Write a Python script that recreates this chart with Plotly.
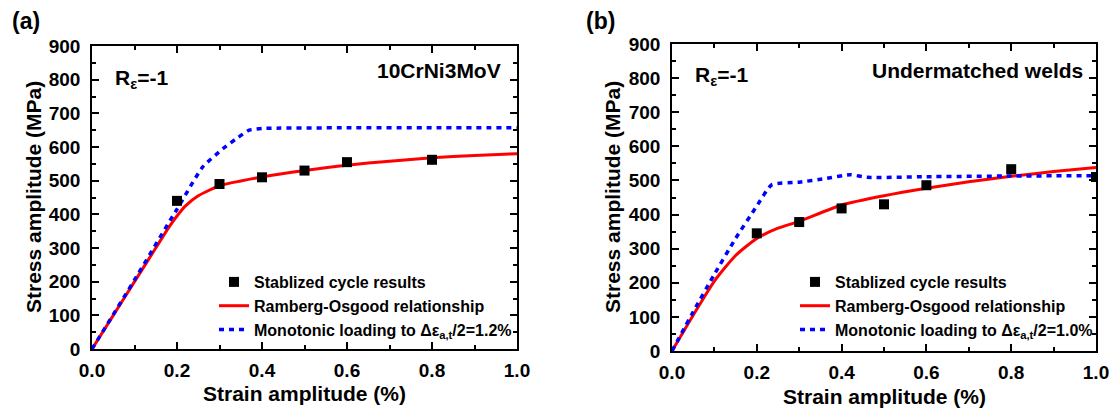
import plotly.graph_objects as go

# ---------------- data ----------------
# Panel (a) 10CrNi3MoV
a_pts_x = [0.2, 0.3, 0.4, 0.5, 0.6, 0.8]
a_pts_y = [440, 490, 510, 530, 555, 562]
a_ro_x = [0.0, 0.05, 0.10, 0.15, 0.18, 0.20, 0.22, 0.25, 0.30, 0.35, 0.40, 0.50, 0.60, 0.70, 0.80, 0.90, 1.00]
a_ro_y = [0, 100, 200, 300, 360, 395, 425, 455, 485, 499, 511, 530, 546, 558, 568, 575, 580]
a_mono_x = [0.0, 0.10, 0.19, 0.20, 0.26, 0.31, 0.34, 0.37, 0.40, 0.60, 0.80, 1.00]
a_mono_y = [0, 205, 395, 415, 540, 597, 625, 650, 655, 657, 657, 657]

# Panel (b) Undermatched welds
b_pts_x = [0.2, 0.3, 0.4, 0.5, 0.6, 0.8, 1.0]
b_pts_y = [345, 378, 418, 430, 486, 533, 510]
b_ro_x = [0.0, 0.05, 0.10, 0.15, 0.20, 0.25, 0.30, 0.40, 0.50, 0.60, 0.70, 0.80, 0.90, 1.00]
b_ro_y = [0, 105, 205, 280, 330, 360, 380, 428, 455, 477, 496, 512, 526, 538]
b_mono_x = [0.0, 0.05, 0.10, 0.15, 0.20, 0.235, 0.30, 0.36, 0.42, 0.46, 0.60, 0.80, 1.00]
b_mono_y = [0, 115, 225, 330, 425, 487, 495, 505, 517, 509, 511, 513, 514]

y_ticks = [0, 100, 200, 300, 400, 500, 600, 700, 800, 900]
x_ticks = [0.0, 0.2, 0.4, 0.6, 0.8, 1.0]
x_tick_labels = ["0.0", "0.2", "0.4", "0.6", "0.8", "1.0"]

name_pts = "Stablized cycle results"
name_ro = "Ramberg-Osgood relationship"
name_mono_a = "Monotonic loading to Δε<sub>a,t</sub>/2=1.2%"
name_mono_b = "Monotonic loading to Δε<sub>a,t</sub>/2=1.0%"

FONT = "Liberation Sans, Arial, sans-serif"
W, H = 1115, 409

fig = go.Figure()

def add_panel(xa, ya, legend, px, py, rx, ry, mx, my, mono_name):
    fig.add_trace(go.Scatter(x=rx, y=ry, mode="lines", name=name_ro, legendrank=2,
                             line=dict(color="#ff0000", width=3, shape="spline", smoothing=0.6),
                             xaxis=xa, yaxis=ya, legend=legend))
    fig.add_trace(go.Scatter(x=mx, y=my, mode="lines", name=mono_name, legendrank=3,
                             line=dict(color="#0000ff", width=3.5, dash="5px,5px", shape="spline", smoothing=0.5),
                             xaxis=xa, yaxis=ya, legend=legend))
    fig.add_trace(go.Scatter(x=px, y=py, mode="markers", name=name_pts, legendrank=1,
                             marker=dict(symbol="square", size=10, color="black"),
                             xaxis=xa, yaxis=ya, legend=legend))

add_panel("x", "y", "legend", a_pts_x, a_pts_y, a_ro_x, a_ro_y, a_mono_x, a_mono_y, name_mono_a)
add_panel("x2", "y2", "legend2", b_pts_x, b_pts_y, b_ro_x, b_ro_y, b_mono_x, b_mono_y, name_mono_b)

def px2x(p):
    return p / W

def py2y(p):
    return 1 - p / H

axis_common = dict(
    showline=True, linecolor="black", linewidth=1.5, mirror="ticks",
    ticks="inside", ticklen=7, tickwidth=1.5, tickcolor="black",
    showgrid=False, zeroline=False, automargin=False,
    tickfont=dict(family=FONT, size=19, color="black", weight="bold"),
    minor=dict(ticks="inside", ticklen=4, tickwidth=1.5, tickcolor="black"),
)

# panel geometry in pixels
A = dict(l=92, r=517, t=46, b=349)
B = dict(l=672, r=1096, t=44, b=351)

def xaxis(g, anchor):
    d = dict(axis_common)
    d.update(domain=[px2x(g["l"]), px2x(g["r"])], anchor=anchor, range=[0, 1.0],
             tickvals=x_ticks, ticktext=x_tick_labels, ticklabelstandoff=3)
    d["minor"] = dict(d["minor"], dtick=0.1, tick0=0)
    return d

def yaxis(g, anchor):
    d = dict(axis_common)
    d.update(domain=[py2y(g["b"]), py2y(g["t"])], anchor=anchor, range=[0, 900],
             tickvals=y_ticks, ticklabelstandoff=6)
    d["minor"] = dict(d["minor"], dtick=50, tick0=0)
    return d

legend_common = dict(font=dict(family=FONT, size=16, color="black", weight="bold"),
                     bgcolor="rgba(0,0,0,0)", borderwidth=0, itemwidth=30,
                     tracegroupgap=0, xanchor="left", yanchor="top", traceorder="normal")

fig.update_layout(
    width=W, height=H, margin=dict(l=0, r=0, t=0, b=0, autoexpand=False),
    paper_bgcolor="white", plot_bgcolor="white",
    xaxis=xaxis(A, "y"), yaxis=yaxis(A, "x"),
    xaxis2=xaxis(B, "y2"), yaxis2=yaxis(B, "x2"),
    legend=dict(legend_common, x=px2x(214), y=py2y(265)),
    legend2=dict(legend_common, x=px2x(795), y=py2y(265)),
    showlegend=True,
)

def ann(text, x, y, size, xanchor="center", angle=0):
    fig.add_annotation(text=text, x=px2x(x), y=py2y(y), xref="paper", yref="paper",
                       showarrow=False, xanchor=xanchor, yanchor="middle", textangle=angle,
                       font=dict(family=FONT, size=size, color="black", weight="bold"))

# panel labels
ann("(a)", 26, 21, 23)
ann("(b)", 600, 21, 23)
# axis titles
ann("Strain amplitude (%)", 304, 393, 21)
ann("Strain amplitude (%)", 884, 396, 21)
ann("Stress amplitude (MPa)", 33, 197, 21, angle=-90)
ann("Stress amplitude (MPa)", 612, 197, 21, angle=-90)
# in-plot labels
ann("R<sub>ε</sub>=-1", 113, 79, 21, xanchor="left")
ann("R<sub>ε</sub>=-1", 693, 76, 21, xanchor="left")
ann("10CrNi3MoV", 503, 71, 21, xanchor="right")
ann("Undermatched welds", 1085, 70, 21, xanchor="right")

fig.write_html("out.html")
